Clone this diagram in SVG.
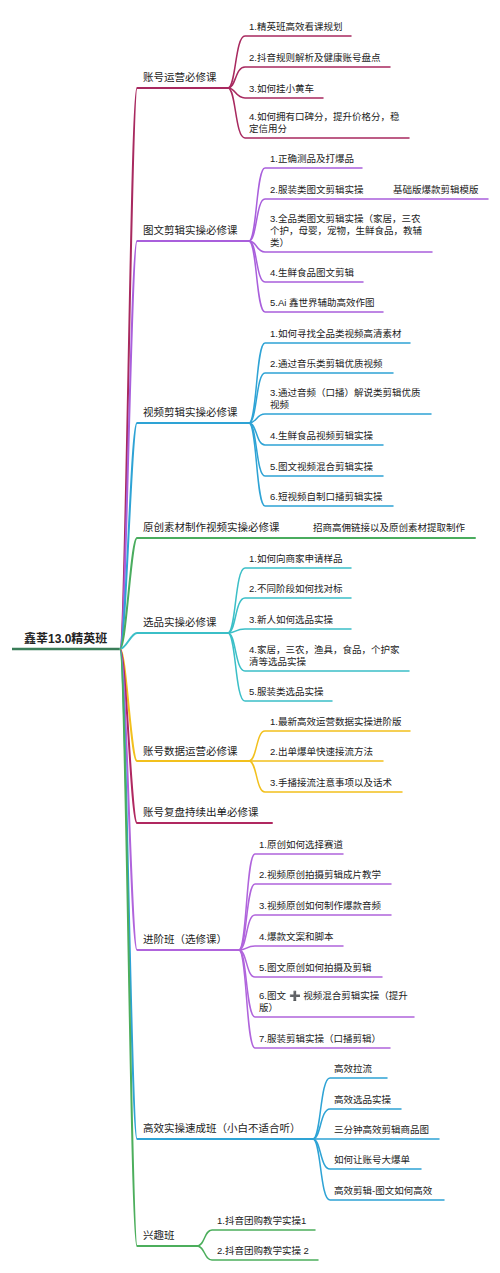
<svg xmlns="http://www.w3.org/2000/svg" width="500" height="1273" viewBox="0 0 500 1273">
<style>
.bg{fill:#ffffff}
text{font-family:"Liberation Sans","Noto Sans CJK SC","DejaVu Sans",sans-serif;fill:#222}
.root{font-size:12px;font-weight:bold}
.main{font-size:10.5px}
.sub{font-size:9.5px}
.m{fill:none;stroke-width:2;stroke-linecap:round}
.s{fill:none;stroke-width:1.5;stroke-linecap:round}
.c1{stroke:#a8295f}.c2{stroke:#a95fdc}.c3{stroke:#2ea3d5}.c4{stroke:#4aac5e}.c5{stroke:#3bbfc7}
.c6{stroke:#f2c01d}.c7{stroke:#b02860}.c8{stroke:#b064dc}.c9{stroke:#2ea3d5}.c10{stroke:#4cae5c}
</style>
<rect class="bg" x="0" y="0" width="500" height="1273"/>
<g id="connectors">
<path d="M12 649 H120" fill="none" stroke="#3a7d58" stroke-width="2.5"/>
<!-- main branches -->
<path class="m c1" d="M120 649 C126 649 131 88 137 88 H228"/>
<path class="m c2" d="M120 649 C126 649 131 241 137 241 H249"/>
<path class="m c3" d="M120 649 C126 649 131 423 137 423 H249"/>
<path class="m c4" d="M120 649 C126 649 131 538 137 538 H475"/>
<path class="m c5" d="M120 649 C126 649 131 633 137 633 H228"/>
<path class="m c6" d="M120 649 C126 649 131 761 137 761 H249"/>
<path class="m c7" d="M120 649 C126 649 131 823 137 823 H272"/>
<path class="m c8" d="M120 649 C126 649 131 950 137 950 H239"/>
<path class="m c9" d="M120 649 C126 649 131 1139 137 1139 H313"/>
<path class="m c10" d="M120 649 C126 649 131 1246 137 1246 H197"/>
<!-- group 1 -->
<path class="s c1" d="M228 88 C236 88 235 36 245 36 H351"/>
<path class="s c1" d="M228 88 C236 88 235 67 245 67 H390"/>
<path class="s c1" d="M228 88 C236 88 235 98 245 98 H323"/>
<path class="s c1" d="M228 88 C236 88 235 138 245 138 H409"/>
<!-- group 2 -->
<path class="s c2" d="M249 241 C257 241 256 168 265 168 H362"/>
<path class="s c2" d="M249 241 C257 241 256 199 265 199 H488"/>
<path class="s c2" d="M249 241 C257 241 256 252 265 252 H432"/>
<path class="s c2" d="M249 241 C257 241 256 282 265 282 H363"/>
<path class="s c2" d="M249 241 C257 241 256 312 265 312 H383"/>
<!-- group 3 -->
<path class="s c3" d="M249 423 C257 423 256 343 265 343 H410"/>
<path class="s c3" d="M249 423 C257 423 256 373 265 373 H393"/>
<path class="s c3" d="M249 423 C257 423 256 414 265 414 H431"/>
<path class="s c3" d="M249 423 C257 423 256 445 265 445 H383"/>
<path class="s c3" d="M249 423 C257 423 256 476 265 476 H383"/>
<path class="s c3" d="M249 423 C257 423 256 506 265 506 H393"/>
<!-- group 5 -->
<path class="s c5" d="M228 633 C236 633 235 568 245 568 H351"/>
<path class="s c5" d="M228 633 C236 633 235 598 245 598 H351"/>
<path class="s c5" d="M228 633 C236 633 235 629 245 629 H351"/>
<path class="s c5" d="M228 633 C236 633 235 671 245 671 H409"/>
<path class="s c5" d="M228 633 C236 633 235 701 245 701 H332"/>
<!-- group 6 -->
<path class="s c6" d="M249 761 C257 761 256 731 265 731 H410"/>
<path class="s c6" d="M249 761 C257 761 256 761 265 761 H383"/>
<path class="s c6" d="M249 761 C257 761 256 792 265 792 H402"/>
<!-- group 8 -->
<path class="s c8" d="M239 950 C247 950 246 854 255 854 H343"/>
<path class="s c8" d="M239 950 C247 950 246 884 255 884 H391"/>
<path class="s c8" d="M239 950 C247 950 246 915 255 915 H391"/>
<path class="s c8" d="M239 950 C247 950 246 946 255 946 H343"/>
<path class="s c8" d="M239 950 C247 950 246 977 255 977 H382"/>
<path class="s c8" d="M239 950 C247 950 246 1017 255 1017 H414"/>
<path class="s c8" d="M239 950 C247 950 246 1048 255 1048 H390"/>
<!-- group 9 -->
<path class="s c9" d="M313 1139 C321 1139 320 1078 330 1078 H387"/>
<path class="s c9" d="M313 1139 C321 1139 320 1109 330 1109 H401"/>
<path class="s c9" d="M313 1139 C321 1139 320 1139 330 1139 H439"/>
<path class="s c9" d="M313 1139 C321 1139 320 1169 330 1169 H421"/>
<path class="s c9" d="M313 1139 C321 1139 320 1200 330 1200 H444"/>
<!-- group 10 -->
<path class="s c10" d="M197 1246 C205 1246 204 1230 212 1230 H315"/>
<path class="s c10" d="M197 1246 C205 1246 204 1260 212 1260 H318"/>
</g>
<g id="root"><text class="root" x="24" y="643">鑫莘13.0精英班</text></g>
<g id="b1">
<text class="main" x="143" y="81">账号运营必修课</text>
<text class="sub" x="249" y="29.5">1.精英班高效看课规划</text>
<text class="sub" x="249" y="60.5">2.抖音规则解析及健康账号盘点</text>
<text class="sub" x="249" y="91.5">3.如何挂小黄车</text>
<text class="sub" x="249" y="119.5">4.如何拥有口碑分，提升价格分，稳</text>
<text class="sub" x="249" y="131.5">定信用分</text>
</g>
<g id="b2">
<text class="main" x="143" y="234">图文剪辑实操必修课</text>
<text class="sub" x="270" y="161.5">1.正确测品及打爆品</text>
<text class="sub" x="270" y="192.5">2.服装类图文剪辑实操</text>
<text class="sub" x="393" y="192.5">基础版爆款剪辑模版</text>
<text class="sub" x="270" y="221.5">3.全品类图文剪辑实操（家居，三农</text>
<text class="sub" x="270" y="233.5">个护，母婴，宠物，生鲜食品，教辅</text>
<text class="sub" x="270" y="245.5">类）</text>
<text class="sub" x="270" y="275.5">4.生鲜食品图文剪辑</text>
<text class="sub" x="270" y="305.5">5.Ai 鑫世界辅助高效作图</text>
</g>
<g id="b3">
<text class="main" x="143" y="416">视频剪辑实操必修课</text>
<text class="sub" x="270" y="336.5">1.如何寻找全品类视频高清素材</text>
<text class="sub" x="270" y="366.5">2.通过音乐类剪辑优质视频</text>
<text class="sub" x="270" y="395.5">3.通过音频（口播）解说类剪辑优质</text>
<text class="sub" x="270" y="407.5">视频</text>
<text class="sub" x="270" y="438.5">4.生鲜食品视频剪辑实操</text>
<text class="sub" x="270" y="469.5">5.图文视频混合剪辑实操</text>
<text class="sub" x="270" y="499.5">6.短视频自制口播剪辑实操</text>
</g>
<g id="b4">
<text class="main" x="143" y="531">原创素材制作视频实操必修课</text>
<text class="sub" x="313" y="531">招商高佣链接以及原创素材提取制作</text>
</g>
<g id="b5">
<text class="main" x="143" y="626">选品实操必修课</text>
<text class="sub" x="249" y="561.5">1.如何向商家申请样品</text>
<text class="sub" x="249" y="591.5">2.不同阶段如何找对标</text>
<text class="sub" x="249" y="622.5">3.新人如何选品实操</text>
<text class="sub" x="249" y="652.5">4.家居，三农，渔具，食品，个护家</text>
<text class="sub" x="249" y="664.5">清等选品实操</text>
<text class="sub" x="249" y="694.5">5.服装类选品实操</text>
</g>
<g id="b6">
<text class="main" x="143" y="755">账号数据运营必修课</text>
<text class="sub" x="270" y="724.5">1.最新高效运营数据实操进阶版</text>
<text class="sub" x="270" y="755">2.出单爆单快速接流方法</text>
<text class="sub" x="270" y="785.5">3.手播接流注意事项以及话术</text>
</g>
<g id="b7">
<text class="main" x="143" y="816">账号复盘持续出单必修课</text>
</g>
<g id="b8">
<text class="main" x="143" y="943">进阶班（选修课）</text>
<text class="sub" x="259" y="847.5">1.原创如何选择赛道</text>
<text class="sub" x="259" y="877.5">2.视频原创拍摄剪辑成片教学</text>
<text class="sub" x="259" y="908.5">3.视频原创如何制作爆款音频</text>
<text class="sub" x="259" y="939.5">4.爆款文案和脚本</text>
<text class="sub" x="259" y="970.5">5.图文原创如何拍摄及剪辑</text>
<text class="sub" x="259" y="998.5">6.图文 ➕ 视频混合剪辑实操（提升</text>
<text class="sub" x="259" y="1010.5">版）</text>
<text class="sub" x="259" y="1041.5">7.服装剪辑实操（口播剪辑）</text>
</g>
<g id="b9">
<text class="main" x="143" y="1132">高效实操速成班（小白不适合听）</text>
<text class="sub" x="334" y="1071.5">高效拉流</text>
<text class="sub" x="334" y="1102.5">高效选品实操</text>
<text class="sub" x="334" y="1132.5">三分钟高效剪辑商品图</text>
<text class="sub" x="334" y="1162.5">如何让账号大爆单</text>
<text class="sub" x="334" y="1193.5">高效剪辑-图文如何高效</text>
</g>
<g id="b10">
<text class="main" x="143" y="1239">兴趣班</text>
<text class="sub" x="217" y="1223.5">1.抖音团购教学实操1</text>
<text class="sub" x="217" y="1253.5">2.抖音团购教学实操 2</text>
</g>
</svg>
